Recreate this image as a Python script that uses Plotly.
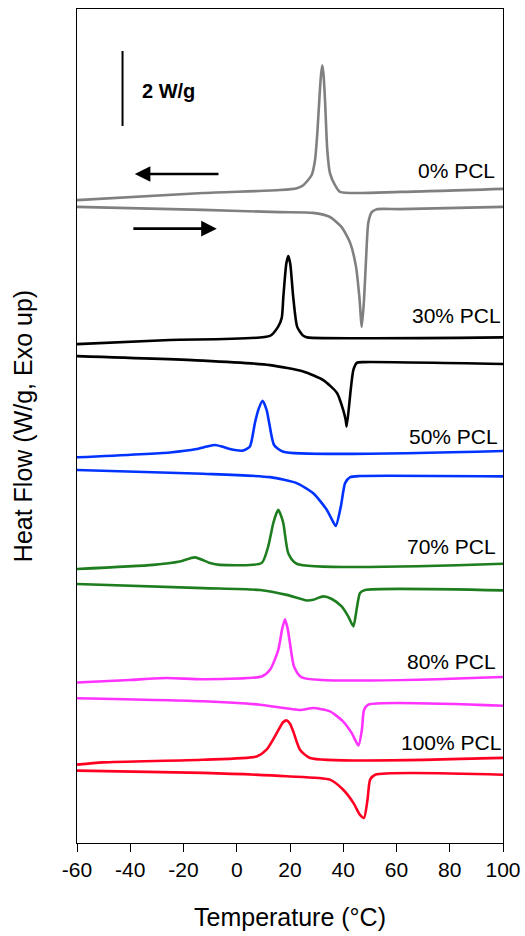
import plotly.graph_objects as go

FONT = "Liberation Sans, Arial, sans-serif"

# ---- data: temperature (°C) and heat flow (W/g, stacked offsets included) ----
t_0c = [-60, -12.7, 16.2, 22.6, 25.0, 28.15, 29.4, 30.26, 31.0, 31.65, 32.14, 32.6, 33.15, 34.0, 35.0, 36.9, 38.8, 61.4, 100]
h_0c = [17.15, 17.34, 17.42, 17.47, 17.55, 17.82, 18.22, 18.94, 19.82, 20.49, 20.75, 20.49, 19.82, 18.49, 17.87, 17.55, 17.37, 17.37, 17.45]
t_0h = [-60, -12.7, 16.2, 28.6, 35.0, 39.4, 42.6, 44.8, 46.05, 46.96, 47.8, 48.6, 49.4, 50.7, 52.6, 61.4, 100]
h_0h = [16.97, 16.89, 16.83, 16.81, 16.70, 16.43, 16.01, 15.37, 14.57, 13.77, 14.49, 15.63, 16.54, 16.83, 16.91, 16.91, 16.97]

t_30c = [-60, -25.1, 12.5, 15.5, 16.9, 17.5, 18.6, 19.35, 20.1, 21.2, 22.7, 25.0, 26.4, 100]
h_30c = [13.31, 13.42, 13.53, 13.77, 14.01, 14.57, 15.45, 15.66, 15.45, 14.57, 13.77, 13.53, 13.49, 13.49]
t_30h = [-60, -12.7, 12.5, 25.0, 32.5, 37.6, 40.0, 40.9, 41.3, 42.8, 43.8, 45.1, 47.6, 100]
h_30h = [12.99, 12.87, 12.75, 12.58, 12.35, 12.01, 11.55, 11.29, 11.11, 12.09, 12.62, 12.81, 12.83, 12.78]

t_50c = [-60, -25.1, -15.1, -11.2, -8.2, -5.6, -2.6, 2.4, 4.95, 6.8, 8.07, 9.7, 11.23, 12.2, 14.0, 17.5, 100]
h_50c = [10.29, 10.42, 10.51, 10.58, 10.62, 10.58, 10.51, 10.47, 10.58, 11.20, 11.55, 11.80, 11.55, 11.20, 10.62, 10.44, 10.46]
t_50h = [-60, -12.6, 12.5, 22.5, 28.75, 33.8, 35.8, 37.2, 39.1, 40.7, 42.6, 46.3, 100]
h_50h = [9.95, 9.85, 9.76, 9.60, 9.33, 8.89, 8.62, 8.46, 8.98, 9.60, 9.76, 9.79, 9.78]

t_70c = [-60, -31.4, -21.4, -15.7, -10.1, -6.3, 9.35, 11.8, 13.7, 14.8, 15.6, 16.4, 17.5, 19.35, 22.5, 100]
h_70c = [7.31, 7.42, 7.51, 7.62, 7.47, 7.42, 7.47, 7.91, 8.53, 8.78, 8.89, 8.78, 8.53, 7.73, 7.45, 7.45]
t_70h = [-60, -12.6, 8.7, 18.75, 26.3, 28.75, 32.5, 35.7, 39.4, 41.9, 43.8, 45.1, 46.3, 48.2, 100]
h_70h = [6.91, 6.80, 6.75, 6.62, 6.47, 6.49, 6.58, 6.51, 6.31, 6.04, 5.78, 6.27, 6.67, 6.75, 6.74]

t_80c = [-60, -40.2, -26.4, -12.6, 9.35, 12.5, 15.6, 17.0, 18.1, 19.05, 20.0, 21.5, 24.4, 100]
h_80c = [4.28, 4.35, 4.40, 4.37, 4.44, 4.62, 5.15, 5.69, 5.97, 5.74, 5.33, 4.71, 4.42, 4.43]
t_80h = [-60, -12.6, 8.7, 23.75, 28.75, 35.0, 40.0, 43.2, 45.7, 47.0, 47.8, 49.4, 100]
h_80h = [3.86, 3.78, 3.69, 3.55, 3.60, 3.51, 3.24, 2.93, 2.60, 3.02, 3.55, 3.69, 3.66]

t_100c = [-60, -50.2, -12.6, 7.5, 11.2, 15.0, 17.4, 18.75, 20.0, 21.2, 23.75, 27.5, 100]
h_100c = [2.09, 2.15, 2.22, 2.31, 2.49, 2.93, 3.22, 3.27, 3.18, 2.98, 2.49, 2.27, 2.27]
t_100h = [-60, -12.6, 18.75, 35.0, 40.0, 43.8, 46.3, 47.8, 49.1, 50.1, 52.0, 100]
h_100h = [1.93, 1.87, 1.78, 1.69, 1.42, 1.07, 0.75, 0.67, 1.15, 1.69, 1.82, 1.82]

labels = ["0% PCL", "30% PCL", "50% PCL", "70% PCL", "80% PCL", "100% PCL"]
label_x = [97.8, 100.0, 98.95, 98.2, 98.2, 100.0]
label_y = [17.94, 14.06, 10.85, 7.91, 4.83, 2.69]
colors = ["#808080", "#000000", "#0033FF", "#1E7D1E", "#FF33FF", "#FF0022"]

tick_vals = [-60, -40, -20, 0, 20, 40, 60, 80, 100]
tick_text = ["-60", "-40", "-20", "0", "20", "40", "60", "80", "100"]

curves = [
    (t_0c, h_0c, t_0h, h_0h),
    (t_30c, h_30c, t_30h, h_30h),
    (t_50c, h_50c, t_50h, h_50h),
    (t_70c, h_70c, t_70h, h_70h),
    (t_80c, h_80c, t_80h, h_80h),
    (t_100c, h_100c, t_100h, h_100h),
]

# scale bar (2 W/g) and direction arrows
bar_x = -42.9
bar_y = [19.13, 21.13]
bar_text = "2 W/g"
bar_text_pos = (-36.4, 20.07)
arrow_cool = (-6.3, -38.3, 17.85)   # from x, to x, y
arrow_heat = (-39.4, -7.5, 16.39)

fig = go.Figure()
for (tc, hc, th, hh), col, name in zip(curves, colors, labels):
    fig.add_trace(go.Scatter(x=tc, y=hc, mode="lines", line=dict(color=col, width=2.6, shape="spline", smoothing=0.6),
                             name=name + " cooling", showlegend=False, hoverinfo="skip"))
    fig.add_trace(go.Scatter(x=th, y=hh, mode="lines", line=dict(color=col, width=2.6, shape="spline", smoothing=0.6),
                             name=name + " heating", showlegend=False, hoverinfo="skip"))

# scale bar
fig.add_trace(go.Scatter(x=[bar_x, bar_x], y=bar_y, mode="lines", line=dict(color="black", width=2),
                         showlegend=False, hoverinfo="skip"))

annotations = []
for txt, lx, ly in zip(labels, label_x, label_y):
    annotations.append(dict(x=lx, y=ly, xref="x", yref="y", text=txt, showarrow=False,
                            xanchor="right", yanchor="middle", font=dict(family=FONT, size=21, color="black")))
annotations.append(dict(x=bar_text_pos[0], y=bar_text_pos[1], xref="x", yref="y", text="<b>" + bar_text + "</b>",
                        showarrow=False, xanchor="left", yanchor="middle", font=dict(family=FONT, size=20, color="black")))
for fx, tx, ay in (arrow_cool, arrow_heat):
    annotations.append(dict(x=tx, y=ay, ax=fx, ay=ay, xref="x", yref="y", axref="x", ayref="y", text="",
                            showarrow=True, arrowhead=2, arrowsize=1.2, arrowwidth=2.6, arrowcolor="black"))

fig.update_layout(
    width=525, height=936,
    margin=dict(l=77, r=22, t=9, b=93, autoexpand=False),
    paper_bgcolor="white", plot_bgcolor="white",
    font=dict(family=FONT, color="black"),
    annotations=annotations,
)
fig.update_xaxes(range=[-60, 100], tickvals=tick_vals, ticktext=tick_text,
                 ticks="outside", ticklen=8, tickwidth=1, tickcolor="black",
                 showline=True, linecolor="black", linewidth=1, mirror=True, showgrid=False, zeroline=False,
                 tickfont=dict(family=FONT, size=21),
                 title=dict(text="Temperature (°C)", font=dict(family=FONT, size=25), standoff=28))
fig.update_yaxes(range=[0, 22.25], showticklabels=False, ticks="",
                 showline=True, linecolor="black", linewidth=1, mirror=True, showgrid=False, zeroline=False,
                 title=dict(text="Heat Flow (W/g, Exo up)", font=dict(family=FONT, size=25), standoff=36))

fig.write_html("out.html")
